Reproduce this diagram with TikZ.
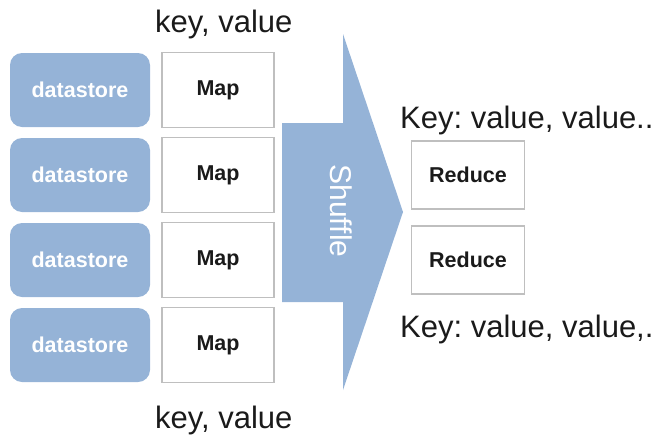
\documentclass[tikz,border=0pt]{standalone}
\usepackage{fontspec}
\setmainfont{Liberation Sans}
\frenchspacing
\definecolor{softblue}{HTML}{95B3D7}
\definecolor{boxgray}{HTML}{BFBFBF}
\definecolor{inktext}{HTML}{1A1A1A}
\begin{document}
\begin{tikzpicture}[x=1pt,y=-1pt,
  store/.style={fill=softblue, draw=none, rounded corners=12pt, minimum width=140pt, minimum height=74pt,
    text=white, font=\fontsize{21.5}{24}\selectfont\bfseries, inner sep=0pt},
  stagebox/.style={draw=boxgray, line width=1.6pt, fill=white, minimum width=112pt, minimum height=75pt,
    text=inktext, font=\fontsize{21.5}{24}\selectfont\bfseries, inner sep=0pt},
  redbox/.style={stagebox, minimum width=113pt, minimum height=68pt},
  kvlabel/.style={anchor=base west, inner sep=0pt, text=inktext, font=\fontsize{31}{34}\selectfont}]
\useasboundingbox (0,0) rectangle (658,434);

% data stores and map tasks
\foreach \i/\y in {1/90, 2/175, 3/260, 4/345} {
  \node[store] (ds\i) at (80,\y) {datastore};
  \node[stagebox] (map\i) at (218,\y) {Map};
}

% shuffle arrow
\fill[softblue] (282,123) -- (343,123) -- (343,34) -- (403,212) -- (343,390) -- (343,302) -- (282,302) -- cycle;
\node[rotate=-90, text=white, font=\fontsize{30}{34}\selectfont, inner sep=0pt] (shuffle) at (341,211) {Shuffle};

% reduce tasks
\node[redbox] (red1) at (468,175) {Reduce};
\node[redbox] (red2) at (468,260) {Reduce};

% key/value labels
\node[kvlabel] (kvtop) at (155,32) {key, value};
\node[kvlabel] (kvbot) at (155,428) {key, value};
\node[kvlabel] (kvr1) at (400,128) {Key: value, value..};
\node[kvlabel] (kvr2) at (400,337) {Key: value, value,.};
\end{tikzpicture}
\end{document}
